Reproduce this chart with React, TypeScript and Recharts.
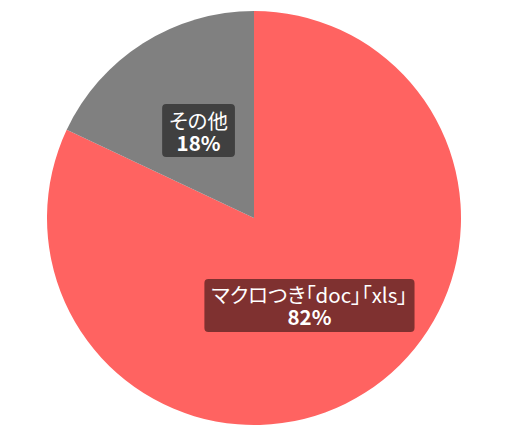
import React, { useLayoutEffect, useRef, useState } from 'react';
import { PieChart, Pie, Cell } from 'recharts';

const categories = ['マクロつき「doc」「xls」', 'その他'];
const values = [82, 18];
const colors = ['#FF6361', '#808080'];
const boxColors = ['#7F3130', '#404040'];

const data = categories.map((name, i) => ({ name, value: values[i] }));

const FONT = '"Noto Sans CJK JP", "Noto Sans", sans-serif';
const FS = 20.5;
const RADIAN = Math.PI / 180;

function LabelBox({ x, y, l1, l2, fill }: { x: number; y: number; l1: string; l2: string; fill: string }) {
  const ref = useRef<SVGTextElement>(null);
  const [w, setW] = useState(0);
  useLayoutEffect(() => {
    if (ref.current) {
      const b = ref.current.getBBox();
      setW(b.width);
    }
  }, [l1, l2]);
  const bw = w + 14;
  const h = 53;
  const textStyle: React.CSSProperties = { fontFeatureSettings: '"palt"' };
  return (
    <g>
      {w > 0 && <rect x={x - bw / 2} y={y - h / 2} width={bw} height={h} rx={4} ry={4} fill={fill} />}
      <text ref={ref} textAnchor="middle" fill="#fff" fontFamily={FONT} fontSize={FS} style={textStyle}>
        <tspan x={x} y={y - 11} dominantBaseline="central" fontWeight="normal">
          {l1}
        </tspan>
        <tspan x={x} y={y + 11} dominantBaseline="central" fontWeight="bold">
          {l2}
        </tspan>
      </text>
    </g>
  );
}

const renderLabel = (props: any) => {
  const { cx, cy, midAngle, outerRadius, index, name, value } = props;
  const r = outerRadius * 0.5;
  const x = cx + r * Math.cos(-midAngle * RADIAN);
  const y = cy + r * Math.sin(-midAngle * RADIAN);
  return <LabelBox x={x} y={y} l1={name} l2={`${value}%`} fill={boxColors[index]} />;
};

export default function App() {
  return (
    <PieChart width={504} height={429}>
      <Pie
        data={data}
        dataKey="value"
        nameKey="name"
        cx={241}
        cy={205}
        outerRadius={207}
        startAngle={90}
        endAngle={-270}
        stroke="none"
        label={renderLabel}
        labelLine={false}
        isAnimationActive={false}
      >
        {data.map((d, i) => (
          <Cell key={d.name} fill={colors[i]} />
        ))}
      </Pie>
    </PieChart>
  );
}
